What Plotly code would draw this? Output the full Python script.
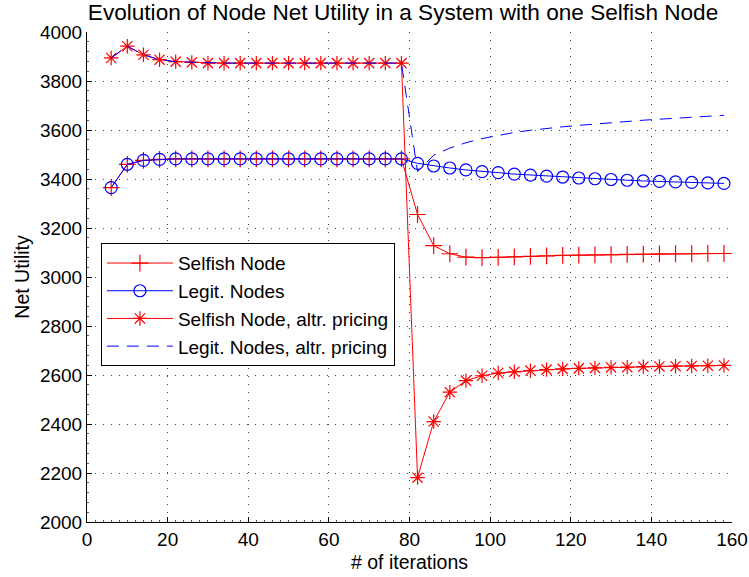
import plotly.graph_objects as go

iterations = [6, 10, 14, 18, 22, 26, 30, 34, 38, 42, 46, 50, 54, 58, 62, 66, 70, 74, 78,
              82, 86, 90, 94, 98, 102, 106, 110, 114, 118, 122, 126, 130, 134, 138, 142, 146, 150, 154, 158]

selfish_node = [3365, 3460, 3476, 3480, 3482, 3482, 3482, 3482, 3482, 3482, 3482, 3482, 3482, 3482, 3482, 3482, 3482, 3482, 3482,
                3255, 3128, 3095, 3081, 3079, 3080, 3082, 3084, 3086, 3088, 3089, 3090, 3091, 3092, 3093, 3094, 3095, 3095, 3096, 3096]

legit_nodes = [3365, 3460, 3476, 3480, 3482, 3482, 3482, 3482, 3482, 3482, 3482, 3482, 3482, 3482, 3482, 3482, 3482, 3482, 3482,
               3464, 3453, 3445, 3437, 3430, 3426, 3420, 3416, 3412, 3408, 3404, 3401, 3398, 3395, 3392, 3390, 3388, 3386, 3384, 3382]

selfish_alt = [3894, 3942, 3907, 3887, 3879, 3876, 3873, 3873, 3873, 3873, 3873, 3873, 3873, 3873, 3873, 3873, 3873, 3873, 3873,
               2181, 2410, 2530, 2577, 2597, 2608, 2613, 2618, 2622, 2625, 2627, 2629, 2631, 2632, 2634, 2635, 2636, 2637, 2638, 2639]

legit_alt = [3894, 3942, 3907, 3887, 3879, 3876, 3873, 3873, 3873, 3873, 3873, 3873, 3873, 3873, 3873, 3873, 3873, 3873, 3873,
             3430, 3497, 3526, 3548, 3565, 3579, 3590, 3599, 3607, 3613, 3619, 3625, 3630, 3635, 3640, 3644, 3648, 3652, 3656, 3660]

names = ["Selfish Node", "Legit. Nodes", "Selfish Node, altr. pricing", "Legit. Nodes, altr. pricing"]

RED = "#ff0000"
BLUE = "#0000ff"
FONT = "Liberation Sans, Arial, sans-serif"

fig = go.Figure()
fig.add_trace(go.Scatter(
    x=iterations, y=selfish_node, name=names[0], mode="lines+markers",
    line=dict(color=RED, width=1),
    marker=dict(symbol="cross-thin-open", size=12, color=RED, line=dict(color=RED, width=1.2)),
))
fig.add_trace(go.Scatter(
    x=iterations, y=legit_nodes, name=names[1], mode="lines+markers",
    line=dict(color=BLUE, width=1),
    marker=dict(symbol="circle-open", size=12, color=BLUE, line=dict(color=BLUE, width=1.2)),
))
fig.add_trace(go.Scatter(
    x=iterations, y=selfish_alt, name=names[2], mode="lines+markers",
    line=dict(color=RED, width=1),
    marker=dict(symbol="asterisk-open", size=12, color=RED, line=dict(color=RED, width=1.2)),
))
fig.add_trace(go.Scatter(
    x=iterations, y=legit_alt, name=names[3], mode="lines",
    line=dict(color=BLUE, width=1, dash="12px,8px"),
))

axis_common = dict(
    showline=True, linecolor="black", linewidth=1,
    ticks="inside", ticklen=5, tickcolor="black", tickwidth=1,
    showgrid=True, gridcolor="#444444", gridwidth=1, griddash="1px,7px",
    zeroline=False, mirror=False,
    tickfont=dict(family=FONT, size=19, color="black"),
    ticklabeloverflow="allow",
)

fig.update_xaxes(
    range=[0, 160], tick0=0, dtick=20, **axis_common,
    minor=dict(dtick=2, ticks="inside", ticklen=2, tickcolor="#555555", showgrid=False),
    title=dict(text="# of iterations", font=dict(family=FONT, size=19.5, color="black"), standoff=6),
)
fig.update_yaxes(
    range=[2000, 4000], tick0=2000, dtick=200, **axis_common,
    minor=dict(dtick=40, ticks="inside", ticklen=2, tickcolor="#555555", showgrid=False),
    title=dict(text="Net Utility", font=dict(family=FONT, size=19.5, color="black"), standoff=5),
)

fig.update_layout(
    width=749, height=577,
    margin=dict(l=87, r=17, t=32, b=55, autoexpand=False),
    paper_bgcolor="white", plot_bgcolor="white",
    title=dict(text="Evolution of Node Net Utility in a System with one Selfish Node",
               font=dict(family=FONT, size=22.6, color="black"),
               x=0.49, xref="paper", xanchor="center", y=1 - 12 / 577, yref="container", yanchor="middle"),
    legend=dict(
        x=0.0216, y=0.569, xanchor="left", yanchor="top",
        bgcolor="white", bordercolor="black", borderwidth=1,
        font=dict(family=FONT, size=19, color="black"),
        itemwidth=66, tracegroupgap=0,
    ),
    showlegend=True,
)

fig.write_html("out.html")
